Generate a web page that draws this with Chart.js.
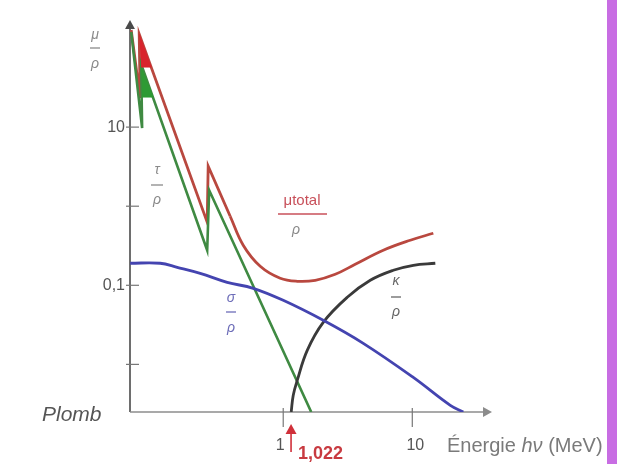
<!DOCTYPE html>
<html>
<head>
<meta charset="utf-8">
<script src="https://cdn.jsdelivr.net/npm/chart.js@4.4.0/dist/chart.umd.min.js"></script>
<style>
  html, body { margin: 0; padding: 0; background: #fff; }
  #wrap { position: relative; width: 617px; height: 464px; overflow: hidden; }
  #band { position: absolute; top: 0; left: 607px; width: 10px; height: 464px; background: #c86de3; }
</style>
</head>
<body>
<div id="wrap">
  <canvas id="chart"></canvas>
  <div id="band"></div>
</div>
<script>
/* ── Curves: energy hν (MeV) against μ/ρ ── */

/* total attenuation, jagged part with the L and K edges */
const totalEdgeE  = [0.0664, 0.0779, 0.0766, 0.2576, 0.2622, 0.3882];
const totalEdgeMu = [169, 23.3, 150, 0.627, 3.21, 0.747];

/* total attenuation, smooth part after the K edge */
const totalE  = [0.3882, 0.4898, 0.6634, 0.948, 1.284, 1.771, 2.53, 3.615, 5.961, 9.649, 14.55];
const totalMu = [0.747, 0.321, 0.174, 0.1227, 0.1124, 0.1157, 0.1378, 0.1844, 0.2773, 0.3712, 0.455];

/* photoelectric effect τ/ρ */
const photoE  = [0.0664, 0.0807, 0.0793, 0.2576, 0.2669, 1.648];
const photoMu = [159.4, 9.71, 62.7, 0.2773, 1.594, 0.0025];

/* filled L-edge wedges */
const redWedgeE    = [0.0766, 0.0948, 0.0793];
const redWedgeMu   = [150, 57.5, 57.5];
const greenWedgeE  = [0.0793, 0.0982, 0.0807];
const greenWedgeMu = [57.5, 24.0, 24.0];

/* Compton σ/ρ */
const comptonE  = [0.0652, 0.1113, 0.1508, 0.2273, 0.3681, 0.5855, 1.0, 2.042, 4.171, 10.18, 19.71, 24.85];
const comptonMu = [0.19, 0.19, 0.169, 0.1418, 0.1091, 0.0916, 0.0646, 0.0361, 0.01845, 0.00684, 0.00303, 0.0025];

/* pair production κ/ρ */
const pairE  = [1.153, 1.195, 1.284, 1.535, 2.042, 3.134, 4.725, 7.124, 10.18, 15.08];
const pairMu = [0.0025, 0.00405, 0.00627, 0.01504, 0.034, 0.0705, 0.1157, 0.1548, 0.1791, 0.19];

/* axis ticks */
const yTickValues = [0.01, 0.1, 1, 10];
const yTickLabels = ['', '0,1', '', '10'];
const xTickValues = [1, 10];
const xTickLabels = ['1', '10'];

/* pair threshold marker (drawn where the picture puts it) */
const thresholdE = 1.15;
const thresholdLabel = '1,022';

const FONT = '"Liberation Sans", Arial, sans-serif';

function toPoints(xs, ys) {
  return xs.map((x, i) => ({ x: x, y: ys[i] }));
}

/* Draws a small stacked fraction like μ over ρ */
function drawFraction(ctx, x, top, bottom, yTop, yBar, yBottom, color, size, barHalf) {
  ctx.save();
  ctx.fillStyle = color;
  ctx.strokeStyle = color;
  ctx.font = 'italic ' + size + 'px ' + FONT;
  ctx.textAlign = 'center';
  ctx.textBaseline = 'middle';
  ctx.fillText(top, x, yTop);
  ctx.fillText(bottom, x, yBottom);
  ctx.lineWidth = 1.3;
  ctx.beginPath();
  ctx.moveTo(x - barHalf, yBar);
  ctx.lineTo(x + barHalf, yBar);
  ctx.stroke();
  ctx.restore();
}

function arrowHead(ctx, x, y, dir, size) {
  ctx.beginPath();
  if (dir === 'up') {
    ctx.moveTo(x, y);
    ctx.lineTo(x - size * 0.55, y + size);
    ctx.lineTo(x + size * 0.55, y + size);
  } else {
    ctx.moveTo(x, y);
    ctx.lineTo(x - size, y - size * 0.55);
    ctx.lineTo(x - size, y + size * 0.55);
  }
  ctx.closePath();
  ctx.fill();
}

/* ── Axes, ticks and annotations ── */
const axesPlugin = {
  id: 'axes',
  beforeDatasetsDraw(chart) {
    const ctx = chart.ctx;
    const xs = chart.scales.x, ys = chart.scales.y;
    const x0 = xs.left, y0 = ys.bottom;
    ctx.save();

    /* y axis */
    ctx.strokeStyle = '#4a4a4a';
    ctx.fillStyle = '#4a4a4a';
    ctx.lineWidth = 1.6;
    ctx.beginPath();
    ctx.moveTo(x0, y0);
    ctx.lineTo(x0, ys.top - 1);
    ctx.stroke();
    arrowHead(ctx, x0, ys.top - 5, 'up', 9);

    /* x axis */
    ctx.strokeStyle = '#8c8c8c';
    ctx.fillStyle = '#8c8c8c';
    ctx.beginPath();
    ctx.moveTo(x0, y0);
    ctx.lineTo(xs.right - 4, y0);
    ctx.stroke();
    arrowHead(ctx, xs.right + 2, y0, 'right', 9);

    /* y ticks */
    ctx.strokeStyle = '#777';
    ctx.lineWidth = 1.2;
    ctx.fillStyle = '#555';
    ctx.font = '16px ' + FONT;
    ctx.textAlign = 'right';
    ctx.textBaseline = 'middle';
    yTickValues.forEach((v, i) => {
      const py = ys.getPixelForValue(v);
      ctx.beginPath();
      ctx.moveTo(x0 - 4, py);
      ctx.lineTo(x0 + 9, py);
      ctx.stroke();
      if (yTickLabels[i]) ctx.fillText(yTickLabels[i], x0 - 5, py);
    });

    /* x ticks */
    ctx.textAlign = 'center';
    xTickValues.forEach((v, i) => {
      const px = xs.getPixelForValue(v);
      ctx.strokeStyle = '#777';
      ctx.beginPath();
      ctx.moveTo(px, y0 - 4);
      ctx.lineTo(px, y0 + 15);
      ctx.stroke();
      ctx.fillText(xTickLabels[i], px - (i === 0 ? 3 : -3), y0 + 34);
    });
    ctx.restore();
  },
  afterDraw(chart) {
    const ctx = chart.ctx;
    const xs = chart.scales.x, ys = chart.scales.y;
    const y0 = ys.bottom;
    ctx.save();

    /* threshold arrow + label */
    const tx = xs.getPixelForValue(thresholdE);
    ctx.strokeStyle = '#d0303a';
    ctx.fillStyle = '#d0303a';
    ctx.lineWidth = 1.6;
    ctx.beginPath();
    ctx.moveTo(tx, y0 + 40);
    ctx.lineTo(tx, y0 + 18);
    ctx.stroke();
    arrowHead(ctx, tx, y0 + 12, 'up', 10);
    ctx.fillStyle = '#c83a40';
    ctx.font = 'bold 18px ' + FONT;
    ctx.textAlign = 'left';
    ctx.textBaseline = 'middle';
    ctx.fillText(thresholdLabel, tx + 7, y0 + 42);

    /* energy axis title */
    ctx.fillStyle = '#7a7a7a';
    ctx.font = '20px ' + FONT;
    ctx.textBaseline = 'middle';
    let ex = 447;
    const ey = y0 + 34;
    ctx.fillText('Énergie ', ex, ey);
    ex += ctx.measureText('Énergie ').width;
    ctx.font = 'italic 20px ' + FONT;
    ctx.fillText('hν', ex, ey);
    ex += ctx.measureText('hν').width;
    ctx.font = '20px ' + FONT;
    ctx.fillText(' (MeV)', ex, ey);

    /* material */
    ctx.fillStyle = '#555';
    ctx.font = 'italic 21px ' + FONT;
    ctx.fillText('Plomb', 42, 415);

    /* fraction labels */
    drawFraction(ctx, 95, 'μ', 'ρ', 35, 48, 64, '#8a8a8a', 14, 5);
    drawFraction(ctx, 157, 'τ', 'ρ', 170, 185, 200, '#8a8a8a', 14, 6);
    drawFraction(ctx, 231, 'σ', 'ρ', 298, 312, 328, '#6d6db8', 14, 5);
    drawFraction(ctx, 396, 'κ', 'ρ', 281, 297, 312, '#666', 14, 5);

    /* μ total over ρ */
    ctx.fillStyle = '#c8505a';
    ctx.strokeStyle = '#c8505a';
    ctx.font = '15px ' + FONT;
    ctx.textAlign = 'center';
    ctx.fillText('μtotal', 302, 201);
    ctx.lineWidth = 1.4;
    ctx.beginPath();
    ctx.moveTo(278, 214);
    ctx.lineTo(327, 214);
    ctx.stroke();
    ctx.fillStyle = '#8a8a8a';
    ctx.font = 'italic 14px ' + FONT;
    ctx.fillText('ρ', 296, 230);

    ctx.restore();
  }
};

function lineSet(xs, ys, color, width, tension) {
  return {
    data: toPoints(xs, ys),
    borderColor: color,
    borderWidth: width,
    tension: tension,
    pointRadius: 0,
    fill: false
  };
}

function wedgeSet(xs, ys, color) {
  return {
    data: toPoints(xs, ys),
    borderColor: color,
    backgroundColor: color,
    borderWidth: 1,
    tension: 0,
    pointRadius: 0,
    fill: 'shape'
  };
}

new Chart(document.getElementById('chart'), {
  type: 'line',
  data: {
    datasets: [
      wedgeSet(redWedgeE, redWedgeMu, '#d8242c'),
      wedgeSet(greenWedgeE, greenWedgeMu, '#2e9a34'),
      lineSet(comptonE, comptonMu, '#4444b0', 2.8, 0.4),
      lineSet(pairE, pairMu, '#3a3a3a', 2.8, 0.4),
      lineSet(photoE, photoMu, '#3f8a42', 2.6, 0),
      lineSet(totalEdgeE, totalEdgeMu, '#b9483f', 2.8, 0),
      lineSet(totalE, totalMu, '#b9483f', 2.8, 0.4)
    ]
  },
  options: {
    responsive: true,
    maintainAspectRatio: false,
    animation: false,
    layout: { padding: { left: 130, top: 25, right: 127, bottom: 52 } },
    plugins: {
      legend: { display: false },
      tooltip: { enabled: false }
    },
    scales: {
      x: { type: 'logarithmic', min: 0.065, max: 40, display: false },
      y: { type: 'logarithmic', min: 0.0025, max: 195.5, display: false }
    }
  },
  plugins: [axesPlugin]
});
</script>
</body>
</html>
